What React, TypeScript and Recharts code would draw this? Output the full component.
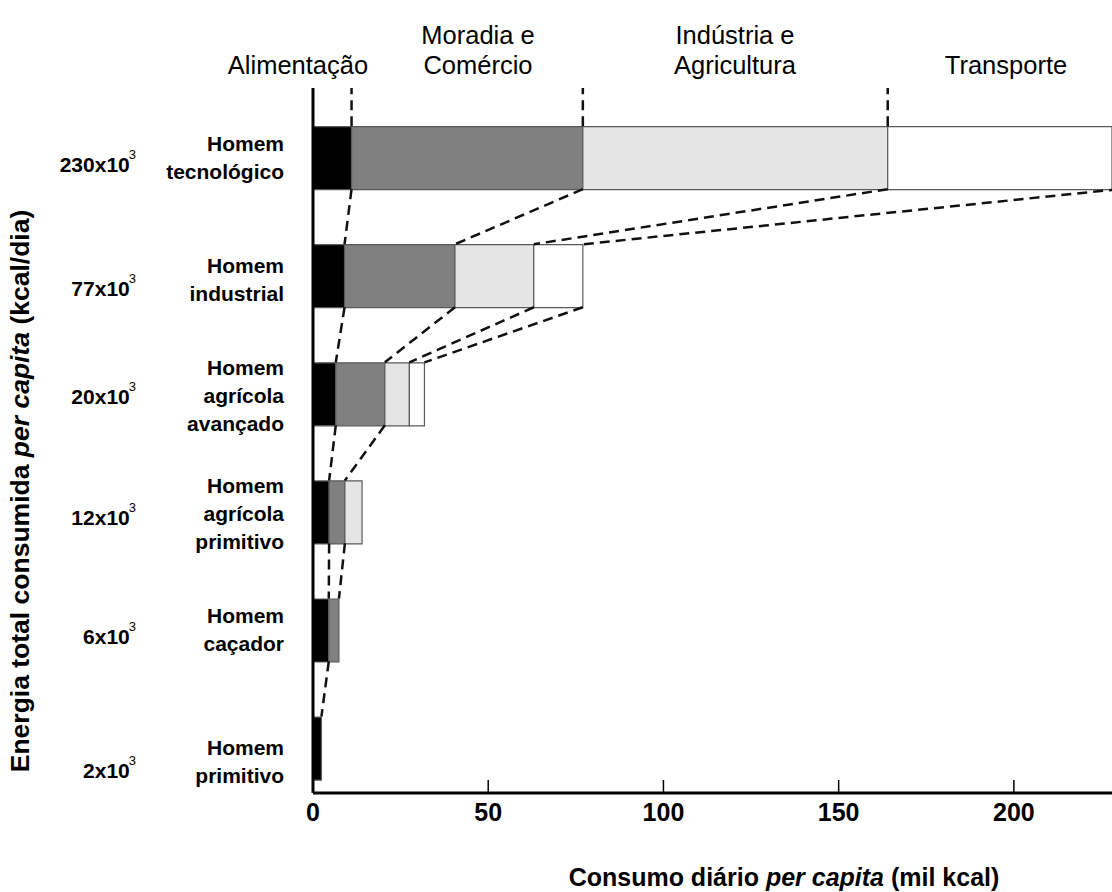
import { BarChart, Bar, XAxis, YAxis, ReferenceLine, Customized } from 'recharts'

// row positions on the numeric y axis (top row = 0, axis runs downward)
const rows = [0, 1, 2, 3, 4, 5]
const nomes = [
  ['Homem', 'tecnológico'],
  ['Homem', 'industrial'],
  ['Homem', 'agrícola', 'avançado'],
  ['Homem', 'agrícola', 'primitivo'],
  ['Homem', 'caçador'],
  ['Homem', 'primitivo'],
]
const energiaTotal = ['230', '77', '20', '12', '6', '2']

// mil kcal per capita, by use
const alimentacao = [11, 9, 6.5, 4.6, 4.5, 2.4]
const moradia = [66, 31.5, 14, 4.5, 2.9, 0]
const industria = [87, 22.5, 7, 4.9, 0, 0]
const transporte = [66, 14, 4.3, 0, 0, 0]

// how many segment edges are joined by dashes between a row and the one below
const ligacoes = [4, 4, 2, 2, 1]
// edges of the top row that get a dashed line up to the headings
const topoLigacoes = 3

const xTicks = [0, 50, 100, 150, 200]
const setores = [['Alimentação'], ['Moradia e', 'Comércio'], ['Indústria e', 'Agricultura'], ['Transporte']]

const W = 1112
const H = 892
const TOP = 88
const LEFT = 313
const X_AXIS_H = 99
const X_MAX = 228
const Y_MIN = -0.59
const Y_MAX = 5.38
const BAR_PX = 63
const PLOT_H = H - TOP - X_AXIS_H
const HALF = BAR_PX / 2 / (PLOT_H / (Y_MAX - Y_MIN))

// small vertical nudges of the row labels (px)
const nomeDy = [0, 4, 2, 2, 0, 14]
const valorDy = [7, 13, 3, 6, 6, 22]

const FONT = '"Liberation Sans", Arial, sans-serif'
const series = [alimentacao, moradia, industria, transporte]
const keys = ['alimentacao', 'moradia', 'industria', 'transporte']
const fills = ['#000000', '#808080', '#e5e5e5', '#ffffff']

const data = rows.map((row, i) => ({
  row,
  alimentacao: alimentacao[i],
  moradia: moradia[i],
  industria: industria[i],
  transporte: transporte[i],
}))

// right edge of segment k in row i
function edge(i: number, k: number) {
  let s = 0
  for (let j = 0; j <= k; j++) s += series[j][i]
  return s
}

const conectores: { x1: number; y1: number; x2: number; y2: number }[] = []
ligacoes.forEach((n, g) => {
  for (let k = 0; k < n; k++) {
    conectores.push({ x1: edge(g, k), y1: rows[g] + HALF, x2: edge(g + 1, k), y2: rows[g + 1] - HALF })
  }
})
for (let k = 0; k < topoLigacoes; k++) {
  conectores.push({ x1: edge(0, k), y1: rows[0] - HALF, x2: edge(0, k), y2: Y_MIN })
}

const setorX = [298, 478, 735, 1006]

function YTick(props: any) {
  const { y, payload } = props
  const i = rows.indexOf(payload.value)
  if (i < 0) return null
  const linhas = nomes[i]
  const lh = 28
  const y0 = y + nomeDy[i] - ((linhas.length - 1) * lh) / 2 + 7
  return (
    <g fontFamily={FONT} fontWeight="bold" fill="#000">
      <text x={136} y={y + valorDy[i] + 7.5} textAnchor="end" fontSize={21}>
        {energiaTotal[i]}x10
        <tspan dx={-1} dy={-13} fontSize={13} fontWeight="normal">3</tspan>
      </text>
      {linhas.map((l, j) => (
        <text key={j} x={284} y={y0 + j * lh} textAnchor="end" fontSize={21}>
          {l}
        </text>
      ))}
    </g>
  )
}

function XTick(props: any) {
  const { x, y, payload } = props
  return (
    <g>
      <line x1={x} x2={x} y1={y - 13} y2={y} stroke="#000" strokeWidth={1.5} />
      <text x={x} y={y + 28} textAnchor="middle" fontFamily={FONT} fontWeight="bold" fontSize={25} fill="#000">
        {payload.value}
      </text>
    </g>
  )
}

function Titulos() {
  return (
    <g fontFamily={FONT} fill="#000">
      {setores.map((s, i) =>
        s.map((l, j) => (
          <text key={i + '-' + j} x={setorX[i]} y={74 - (s.length - 1 - j) * 30} textAnchor="middle" fontSize={25.5}>
            {l}
          </text>
        ))
      )}
      <text x={784} y={886} textAnchor="middle" fontSize={25} fontWeight="bold">
        Consumo diário <tspan fontStyle="italic">per capita</tspan> (mil kcal)
      </text>
      <text transform="rotate(-90)" x={-491} y={29} textAnchor="middle" fontSize={26.5} fontWeight="bold">
        Energia total consumida <tspan fontStyle="italic">per capita</tspan> (kcal/dia)
      </text>
    </g>
  )
}

export default function App() {
  return (
    <div style={{ position: 'absolute', left: 0, top: 0, background: '#fff', fontFamily: FONT }}>
      <BarChart
        width={W}
        height={H}
        data={data}
        layout="vertical"
        margin={{ top: TOP, right: 0, bottom: 0, left: 0 }}
      >
        <XAxis
          type="number"
          domain={[0, X_MAX]}
          allowDataOverflow
          ticks={xTicks}
          height={X_AXIS_H}
          tickLine={false}
          tickSize={0}
          tickMargin={0}
          axisLine={{ stroke: '#000', strokeWidth: 3 }}
          tick={<XTick />}
        />
        <YAxis
          type="number"
          dataKey="row"
          domain={[Y_MIN, Y_MAX]}
          allowDataOverflow
          ticks={rows}
          width={LEFT}
          tickLine={false}
          axisLine={{ stroke: '#000', strokeWidth: 3 }}
          tick={<YTick />}
        />
        {keys.map((k, i) => (
          <Bar
            key={k}
            dataKey={k}
            stackId="s"
            fill={fills[i]}
            stroke="#5a5a5a"
            strokeWidth={1.2}
            barSize={BAR_PX}
            isAnimationActive={false}
          />
        ))}
        {conectores.map((c, i) => (
          <ReferenceLine
            key={i}
            segment={[
              { x: c.x1, y: c.y1 },
              { x: c.x2, y: c.y2 },
            ]}
            stroke="#111"
            strokeWidth={2.5}
            strokeDasharray="10 6"
            ifOverflow="hidden"
          />
        ))}
        <Customized component={<Titulos />} />
      </BarChart>
    </div>
  )
}
